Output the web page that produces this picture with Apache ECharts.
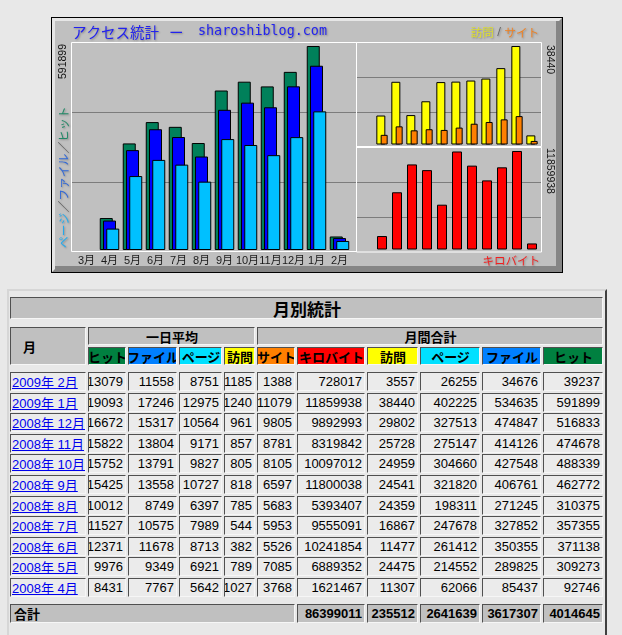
<!DOCTYPE html>
<html><head><meta charset="utf-8">
<script src="https://cdn.jsdelivr.net/npm/echarts/dist/echarts.min.js"></script>
<style>
html,body{margin:0;padding:0;background:#e8e8e8;width:622px;height:635px;overflow:hidden;font-family:"Liberation Sans","Noto Sans CJK JP",sans-serif;}
#chart{position:absolute;left:0;top:0;width:622px;height:285px;}
#tbl{position:absolute;left:0;top:0;width:622px;height:635px;}
#frame{position:absolute;left:7px;top:289px;width:600px;height:400px;box-sizing:border-box;border-left:2px solid #d6d6d6;border-top:2px solid #d6d6d6;border-right:2px solid #404040;}
.c{position:absolute;box-sizing:border-box;border-top:1px solid #505050;border-left:1px solid #505050;border-right:1px solid #f6f6f6;border-bottom:1px solid #f6f6f6;font-size:13px;white-space:nowrap;overflow:hidden;display:flex;align-items:center;color:#000;background:#ebebeb;}
.b{font-weight:bold;font-family:"Noto Sans CJK JP","Liberation Sans",sans-serif;}
.nb{font-weight:bold;}
a{color:#0000ee;text-decoration:underline;}
</style></head>
<body>
<div id="frame"></div>
<div id="tbl"></div>
<div id="chart"></div>
<script>
// ---- data ----
const chartMonths = ['3月','4月','5月','6月','7月','8月','9月','10月','11月','12月','1月','2月'];
const tableMonths = ['2009年 2月','2009年 1月','2008年 12月','2008年 11月','2008年 10月','2008年 9月','2008年 8月','2008年 7月','2008年 6月','2008年 5月','2008年 4月'];
const avgHits   = [13079,19093,16672,15822,15752,15425,10012,11527,12371,9976,8431];
const avgFiles  = [11558,17246,15317,13804,13791,13558,8749,10575,11678,9349,7767];
const avgPages  = [8751,12975,10564,9171,9827,10727,6397,7989,8713,6921,5642];
const avgVisits = [1185,1240,961,857,805,818,785,544,382,789,1027];
const totSites  = [1388,11079,9805,8781,8105,6597,5683,5953,5526,7085,3768];
const totKB     = [728017,11859938,9892993,8319842,10097012,11800038,5393407,9555091,10241854,6889352,1621467];
const totVisits = [3557,38440,29802,25728,24959,24541,24359,16867,11477,24475,11307];
const totPages  = [26255,402225,327513,275147,304660,321820,198311,247678,261412,214552,62066];
const totFiles  = [34676,534635,474847,414126,427548,406761,271245,327852,350355,289825,85437];
const totHits   = [39237,591899,516833,474678,488339,462772,310375,357355,371138,309273,92746];
const sumKB = 86399011, sumVisits = 235512, sumPages = 2641639, sumFiles = 3617307, sumHits = 4014645;
const headerLabels = ['ヒット','ファイル','ページ','訪問','サイト','キロバイト','訪問','ページ','ファイル','ヒット'];

// chart series (chronological, 3月 has no data)
const chron = a => [null].concat(a.slice().reverse());
const maxHits = Math.max(...totHits), maxVisits = Math.max(...totVisits), maxKB = Math.max(...totKB);

const C = {hit:'#00805a', file:'#0000ff', page:'#00c0ff', visit:'#ffff00', site:'#ff8000', kb:'#ff0000'};
const bs = c => ({color:c, borderColor:'#000', borderWidth:1});
const shadow = {textShadowColor:'rgba(0,0,0,0.3)', textShadowBlur:2, textShadowOffsetX:1, textShadowOffsetY:1};

const chart = echarts.init(document.getElementById('chart'), null, {renderer:'canvas'});
const helperY = {type:'value', min:0, max:3, interval:1, axisLine:{show:false}, axisTick:{show:false}, axisLabel:{show:false},
  splitLine:{show:true, showMinLine:false, showMaxLine:false, lineStyle:{color:'#7c7c7c', width:1}}};
chart.setOption({
  animation:false,
  grid:[
    {left:75, top:42, width:276, height:208, outerBoundsMode:'none'},
    {left:359.5, top:42, width:180, height:102.5, outerBoundsMode:'none'},
    {left:359.5, top:147, width:180, height:102.5, outerBoundsMode:'none'},
    {left:72, top:42, width:284, height:210, outerBoundsMode:'none'},
    {left:357, top:42, width:184, height:105, outerBoundsMode:'none'},
    {left:357, top:147, width:184, height:105, outerBoundsMode:'none'}
  ],
  xAxis:[
    {type:'category', gridIndex:0, data:chartMonths, axisLine:{show:false}, axisTick:{show:false},
     axisLabel:{interval:0, hideOverlap:false, margin:5, fontSize:11, lineHeight:12, color:'#1a1a1a', fontFamily:'Liberation Sans, Noto Sans CJK JP'}},
    {type:'category', gridIndex:1, data:chartMonths, show:false},
    {type:'category', gridIndex:2, data:chartMonths, show:false},
    {type:'value', gridIndex:3, show:false, min:0, max:1},
    {type:'value', gridIndex:4, show:false, min:0, max:1},
    {type:'value', gridIndex:5, show:false, min:0, max:1}
  ],
  yAxis:[
    {type:'value', gridIndex:0, min:0, max:603500, show:false},
    {type:'value', gridIndex:1, min:0, max:40000, show:false},
    {type:'value', gridIndex:2, min:0, max:12340000, show:false},
    Object.assign({gridIndex:3}, helperY),
    Object.assign({gridIndex:4}, helperY),
    Object.assign({gridIndex:5}, helperY)
  ],
  series:[
    {type:'bar', name:'ヒット', xAxisIndex:0, yAxisIndex:0, data:chron(totHits), barWidth:13, barGap:'-75%', itemStyle:bs(C.hit)},
    {type:'bar', name:'ファイル', xAxisIndex:0, yAxisIndex:0, data:chron(totFiles), barWidth:13, barGap:'-75%', itemStyle:bs(C.file)},
    {type:'bar', name:'ページ', xAxisIndex:0, yAxisIndex:0, data:chron(totPages), barWidth:13, barGap:'-75%', itemStyle:bs(C.page)},
    {type:'bar', name:'訪問', xAxisIndex:1, yAxisIndex:1, data:chron(totVisits), barWidth:9, barGap:'-52%', itemStyle:bs(C.visit)},
    {type:'bar', name:'サイト', xAxisIndex:1, yAxisIndex:1, data:chron(totSites), barWidth:7, barGap:'-52%', itemStyle:bs(C.site)},
    {type:'bar', name:'キロバイト', xAxisIndex:2, yAxisIndex:2, data:chron(totKB), barWidth:10, itemStyle:bs(C.kb)}
  ],
  graphic:{elements:[
    {type:'rect', z:-20, silent:true, shape:{x:51,y:17,width:512,height:256}, style:{fill:'#000'}},
    {type:'rect', z:-19, silent:true, shape:{x:52,y:18,width:510,height:254}, style:{fill:'#858585'}},
    {type:'polygon', z:-18, silent:true, shape:{points:[[52,18],[562,18],[559,21],[55,21],[55,269],[52,272]]}, style:{fill:'#e6e6e6'}},
    {type:'rect', z:-17, silent:true, shape:{x:55,y:21,width:501,height:245}, style:{fill:'#c0c0c0'}},
    {type:'rect', z:1, silent:true, shape:{x:71.5,y:42.5,width:285,height:209}, style:{fill:'none', stroke:'#fff', lineWidth:1}},
    {type:'rect', z:1, silent:true, shape:{x:356.5,y:42.5,width:185,height:104}, style:{fill:'none', stroke:'#fff', lineWidth:1}},
    {type:'rect', z:1, silent:true, shape:{x:356.5,y:147.5,width:185,height:104.5}, style:{fill:'none', stroke:'#fff', lineWidth:1}},
    {type:'text', z:5, x:72, y:32, style:Object.assign({text:'アクセス統計', fill:'#2222ee', font:'14.5px "Noto Sans CJK JP"', textVerticalAlign:'middle'}, shadow)},
    {type:'text', z:5, x:169, y:32, style:Object.assign({text:'ー', fill:'#2222ee', font:'14.5px "Noto Sans CJK JP"', textVerticalAlign:'middle'}, shadow)},
    {type:'text', z:5, x:198, y:32, style:Object.assign({text:'sharoshiblog.com', fill:'#2222ee', font:'13.4px "DejaVu Sans Mono"', textVerticalAlign:'middle'}, shadow)},
    {type:'text', z:5, x:539, y:32.5, style:Object.assign({text:'{y|訪問}{s| / }{o|サイト}', font:'11.5px "Noto Sans CJK JP"', textAlign:'right', textVerticalAlign:'middle',
      rich:{y:{fill:'#dcdc30', font:'11.5px "Noto Sans CJK JP"'}, s:{fill:'#606060', font:'11px "DejaVu Sans"'}, o:{fill:'#f08020', font:'11.5px "Noto Sans CJK JP"'}}}, shadow)},
    {type:'text', z:5, x:540, y:261, style:Object.assign({text:'キロバイト', fill:'#f02020', font:'11.5px "Noto Sans CJK JP"', textAlign:'right', textVerticalAlign:'middle'}, shadow)},
    {type:'text', z:5, x:63.5, y:248, rotation:Math.PI/2, style:Object.assign({text:'{p|ページ}{s|／}{f|ファイル}{s|／}{h|ヒット}', font:'11.8px "Noto Sans CJK JP"', textAlign:'left', textVerticalAlign:'middle',
      rich:{p:{fill:'#22aaee', font:'11.8px "Noto Sans CJK JP"'}, s:{fill:'#505050', font:'11.8px "Noto Sans CJK JP"'}, f:{fill:'#3068d8', font:'11.8px "Noto Sans CJK JP"'}, h:{fill:'#208866', font:'11.8px "Noto Sans CJK JP"'}}}, shadow)},
    {type:'text', z:5, x:63.5, y:44, rotation:Math.PI/2, style:{text:String(maxHits), fill:'#111', font:'10.5px "Liberation Sans"', textAlign:'right', textVerticalAlign:'middle'}},
    {type:'text', z:5, x:549.5, y:45, rotation:-Math.PI/2, style:{text:String(maxVisits), fill:'#111', font:'10.5px "Liberation Sans"', textAlign:'left', textVerticalAlign:'middle'}},
    {type:'text', z:5, x:549.5, y:148, rotation:-Math.PI/2, style:{text:String(maxKB), fill:'#111', font:'10.5px "Liberation Sans"', textAlign:'left', textVerticalAlign:'middle'}}
  ]}
});

// ---- table ----
const root = document.getElementById('tbl');
const colL = [10,88,128,179,224,257,297,367,420,482,543];
const colR = [86,126,177,222,255,295,365,418,480,541,603];
const hdrBg = ['#008040','#0080ff','#00e0ff','#ffff00','#ff8000','#ff0000','#ffff00','#00e0ff','#0080ff','#008040'];
function cell(x1,y1,x2,y2,html,opt){
  opt = opt||{};
  const d = document.createElement('div');
  d.className = 'c' + (opt.cls ? ' '+opt.cls : '');
  d.style.left = x1+'px'; d.style.top = y1+'px';
  d.style.width = (x2-x1)+'px'; d.style.height = (y2-y1)+'px';
  d.style.justifyContent = opt.align==='right' ? 'flex-end' : (opt.align==='center' ? 'center' : 'flex-start');
  d.style.padding = opt.pad || (opt.align==='right' ? '0 2px 0 0' : '0 0 0 1px');
  if (opt.bg) d.style.background = opt.bg;
  if (opt.size) d.style.fontSize = opt.size+'px';
  d.innerHTML = html;
  root.appendChild(d);
}
cell(10,297,603,319,'月別統計',{cls:'b',bg:'#c0c0c0',align:'center',size:17});
cell(10,327,86,365,'月',{cls:'b',bg:'#c0c0c0',pad:'0 0 0 12px'});
cell(88,327,255,345,'一日平均',{cls:'b',bg:'#c0c0c0',align:'center'});
cell(257,327,603,345,'月間合計',{cls:'b',bg:'#c0c0c0',align:'center'});
headerLabels.forEach((t,i)=>cell(colL[i+1],347,colR[i+1],365,t,{cls:'b',bg:hdrBg[i],align:'center'}));
const cols = [avgHits,avgFiles,avgPages,avgVisits,totSites,totKB,totVisits,totPages,totFiles,totHits];
tableMonths.forEach((m,r)=>{
  const y1 = Math.round(372 + 20.6*r), y2 = y1 + 19;
  cell(colL[0],y1,colR[0],y2,'<a href="#">'+m+'</a>',{pad:'0 0 0 1px'});
  cols.forEach((arr,i)=>cell(colL[i+1],y1,colR[i+1],y2,String(arr[r]),{align:'right'}));
});
cell(10,604,295,623,'合計',{cls:'b',bg:'#c0c0c0',pad:'0 0 0 3px'});
[sumKB,sumVisits,sumPages,sumFiles,sumHits].forEach((v,i)=>cell(colL[i+6],604,colR[i+6],623,String(v),{cls:'nb',bg:'#c0c0c0',align:'right'}));
</script>
</body></html>
